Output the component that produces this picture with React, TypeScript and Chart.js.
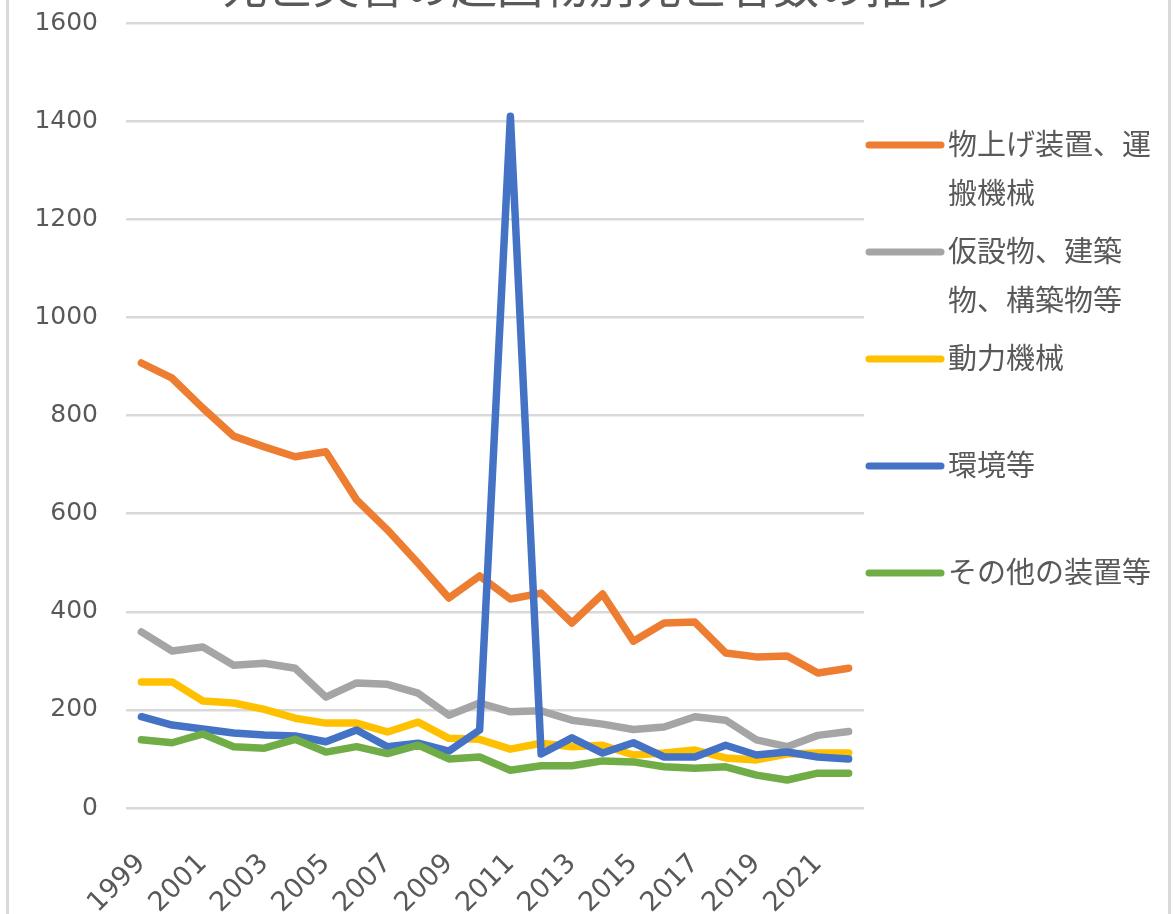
import React, { useEffect, useRef } from "react";
import { Chart, registerables } from "chart.js";

Chart.register(...registerables);

const YEARS = ["1999","2000","2001","2002","2003","2004","2005","2006","2007","2008","2009","2010","2011","2012","2013","2014","2015","2016","2017","2018","2019","2020","2021","2022"];
const LIFTING = [907,876,815,758,736,716,726,628,567,499,428,473,426,438,377,436,340,377,379,316,308,310,275,285];
const TEMP_STRUCT = [359,320,328,291,295,285,226,255,252,234,189,214,196,198,179,171,160,165,186,179,139,125,148,156];
const POWER = [257,257,218,214,201,183,173,173,155,175,142,140,120,132,125,128,108,112,118,102,98,110,112,112];
const ENVIRONMENT = [186,169,161,153,149,147,135,159,125,132,116,159,1410,110,143,112,133,104,104,128,108,114,104,100];
const OTHER = [139,133,151,125,122,140,114,125,111,128,100,104,77,86,86,96,94,84,81,84,67,57,71,71];

const SERIES_NAMES = ["物上げ装置、運搬機械","仮設物、建築物、構築物等","動力機械","環境等","その他の装置等"];
const LEGEND_LINES = [["物上げ装置、運","搬機械"],["仮設物、建築","物、構築物等"],["動力機械"],["環境等"],["その他の装置等"]];
const COLORS = ["#ED7D31","#A5A5A5","#FFC000","#4472C4","#70AD47"];
const TITLE = "死亡災害の起因物別死亡者数の推移";
const Y_MIN = 0;
const Y_MAX = 1600;
const Y_STEP = 200;

const TEXT_COLOR = "#595959";

const framePlugin = {
  id: "frame",
  beforeDraw(chart: any) {
    const { ctx, width, height } = chart;
    ctx.save();
    ctx.fillStyle = "#ffffff";
    ctx.fillRect(0, 0, width, height);
    ctx.strokeStyle = "#D9D9D9";
    ctx.lineWidth = 3;
    ctx.beginPath();
    ctx.moveTo(7.5, 0);
    ctx.lineTo(7.5, height);
    ctx.moveTo(1169.5, 0);
    ctx.lineTo(1169.5, height);
    ctx.stroke();
    // partially visible title (clipped by the top edge)
    ctx.fillStyle = TEXT_COLOR;
    ctx.font = "46px 'Noto Sans CJK JP'";
    ctx.textAlign = "center";
    ctx.textBaseline = "alphabetic";
    ctx.fillText(TITLE, 589, 3);
    ctx.restore();
  },
};

const legendPlugin = {
  id: "sideLegend",
  afterDraw(chart: any) {
    const { ctx } = chart;
    const firstY = 144;
    const step = 107;
    const lineGap = 49;
    ctx.save();
    ctx.font = "29px 'Noto Sans CJK JP'";
    ctx.textBaseline = "middle";
    ctx.textAlign = "left";
    chart.data.datasets.forEach((ds: any, i: number) => {
      const y = firstY + i * step;
      ctx.strokeStyle = ds.borderColor;
      ctx.lineWidth = 7;
      ctx.lineCap = "round";
      ctx.beginPath();
      ctx.moveTo(869, y + 1);
      ctx.lineTo(941, y + 1);
      ctx.stroke();
      ctx.fillStyle = TEXT_COLOR;
      LEGEND_LINES[i].forEach((line, j) => {
        ctx.fillText(line, 948, y + j * lineGap);
      });
    });
    ctx.restore();
  },
};

export default function App() {
  const canvasRef = useRef<HTMLCanvasElement | null>(null);

  useEffect(() => {
    if (!canvasRef.current) return;
    const seriesData = [LIFTING, TEMP_STRUCT, POWER, ENVIRONMENT, OTHER];
    const chart = new Chart(canvasRef.current, {
      type: "line",
      data: {
        labels: YEARS,
        datasets: seriesData.map((d, i) => ({
          label: SERIES_NAMES[i],
          data: d,
          borderColor: COLORS[i],
          backgroundColor: COLORS[i],
          borderWidth: 7.5,
          pointRadius: 0,
          pointHoverRadius: 0,
          tension: 0,
          fill: false,
          borderJoinStyle: "round" as const,
          borderCapStyle: "round" as const,
          order: seriesData.length - 1 - i,
        })),
      },
      options: {
        animation: false,
        responsive: false,
        maintainAspectRatio: false,
        events: [],
        layout: { padding: { top: 23, right: 309, left: 0, bottom: 0 } },
        plugins: {
          legend: { display: false },
          title: { display: false },
          tooltip: { enabled: false },
        },
        scales: {
          x: {
            offset: true,
            grid: { display: false, drawTicks: false },
            border: { display: false },
            ticks: {
              autoSkip: false,
              maxRotation: 45,
              minRotation: 45,
              padding: 40,
              color: TEXT_COLOR,
              font: { family: "'DejaVu Sans'", size: 27 },
              callback: (_v: any, i: number) => (i % 2 === 0 ? YEARS[i] : ""),
            },
            afterFit: (scale: any) => {
              scale.height = 106;
            },
          },
          y: {
            min: Y_MIN,
            max: Y_MAX,
            grid: {
              color: "#D9D9D9",
              lineWidth: 2.5,
              drawTicks: true,
              tickLength: 28,
              tickColor: "rgba(0,0,0,0)",
            },
            border: { display: false },
            ticks: {
              stepSize: Y_STEP,
              padding: 0,
              color: TEXT_COLOR,
              font: { family: "'DejaVu Sans'", size: 25 },
              callback: (v: any) => String(v),
            },
            afterFit: (scale: any) => {
              scale.width = 126;
            },
          },
        },
      },
      plugins: [framePlugin, legendPlugin],
    });
    return () => chart.destroy();
  }, []);

  return (
    <div style={{ position: "fixed", left: 0, top: 0, width: 1173, height: 914, background: "#fff" }}>
      <canvas ref={canvasRef} width={1173} height={914} style={{ display: "block" }} />
    </div>
  );
}
